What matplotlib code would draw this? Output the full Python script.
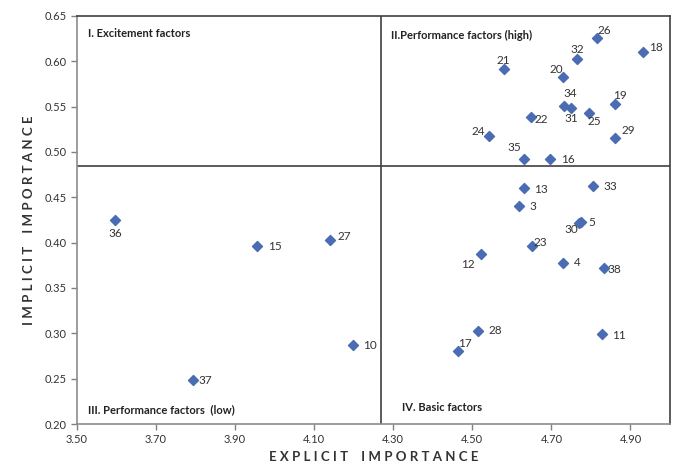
import matplotlib.pyplot as plt

# factor id, explicit importance (x), implicit importance (y)
ids = [26, 18, 32, 21, 20, 34, 31, 25, 19, 22, 24, 29, 35, 16, 13, 33, 3,
       5, 30, 23, 12, 4, 38, 28, 11, 17, 36, 15, 27, 10, 37]
explicit = [4.816, 4.931, 4.765, 4.579, 4.729, 4.733, 4.750, 4.796, 4.862,
            4.648, 4.541, 4.862, 4.631, 4.697, 4.631, 4.805, 4.619,
            4.775, 4.769, 4.652, 4.522, 4.729, 4.832, 4.514, 4.828, 4.464,
            3.596, 3.956, 4.141, 4.198, 3.793]
implicit = [0.626, 0.610, 0.603, 0.591, 0.583, 0.551, 0.548, 0.543, 0.553,
            0.538, 0.518, 0.515, 0.492, 0.492, 0.460, 0.462, 0.440,
            0.423, 0.422, 0.396, 0.388, 0.378, 0.372, 0.303, 0.299, 0.280,
            0.425, 0.396, 0.403, 0.287, 0.248]

# label offsets in pixels (dx right, dy down)
offsets = [(7, -7), (13, -5), (0, -9), (0, -9), (-7, -7), (6, -12), (0, 10),
           (5, 9), (4, -8), (10, 2), (-10, -4), (13, -8), (-10, -12), (18, 0),
           (17, 1), (17, 0), (13, 0),
           (11, 1), (-7, 7), (8, -4), (-13, 11), (14, 0), (11, 1), (17, 0),
           (17, 1), (7, -8), (0, 14), (18, 0), (14, -3), (17, 0), (12, 0)]

x_split = 4.27
y_split = 0.485

x_ticks = [3.50, 3.70, 3.90, 4.10, 4.30, 4.50, 4.70, 4.90]
y_ticks = [0.20, 0.25, 0.30, 0.35, 0.40, 0.45, 0.50, 0.55, 0.60, 0.65]

plt.rcParams['font.family'] = ['Lato', 'DejaVu Sans']

fig = plt.figure(figsize=(6.77, 4.68), dpi=100)
ax = fig.add_axes([0.1137, 0.094, 0.876, 0.872])

ax.scatter(explicit, implicit, marker='D', s=26, color='#4a6cb3', zorder=3)

for i, x, y, (dx, dy) in zip(ids, explicit, implicit, offsets):
    ax.annotate(str(i), (x, y), xytext=(dx, -dy), textcoords='offset pixels',
                ha='center', va='center', fontsize=8.5, color='#333333')

ax.axvline(x_split, color='#404040', lw=1.2, zorder=2)
ax.axhline(y_split, color='#404040', lw=1.2, zorder=2)

ax.set_xlim(3.5, 5.0)
ax.set_ylim(0.20, 0.65)
ax.set_xticks(x_ticks)
ax.set_xticklabels([f"{v:.2f}" for v in x_ticks])
ax.set_yticks(y_ticks)
ax.set_yticklabels([f"{v:.2f}" for v in y_ticks])
ax.tick_params(labelsize=8, colors='#808080', labelcolor='#333333',
               length=4, width=1)

for s in ['left', 'bottom']:
    ax.spines[s].set_color('#8c8c8c')
for s in ['top', 'right']:
    ax.spines[s].set_color('#404040')
for s in ax.spines.values():
    s.set_linewidth(1.2)

# quadrant names
qstyle = dict(fontsize=8, fontweight='bold', color='#222222',
              transform=ax.transAxes, va='center', ha='left')
ax.text(0.018, 0.958, "I. Excitement factors", **qstyle)
ax.text(0.53, 0.953, "II.Performance factors (high)", **qstyle)
ax.text(0.018, 0.036, "III. Performance factors  (low)", **qstyle)
ax.text(0.548, 0.041, "IV. Basic factors", **qstyle)

ax.set_xlabel("E X P L I C I T    I M P O R T A N C E", fontsize=9.5,
              fontweight='bold', color='#333333', labelpad=4)
ax.set_ylabel("I M P L I C I T    I M P O R T A N C E", fontsize=9.5,
              fontweight='bold', color='#333333', labelpad=7)

fig.savefig("out.png", dpi=100)
